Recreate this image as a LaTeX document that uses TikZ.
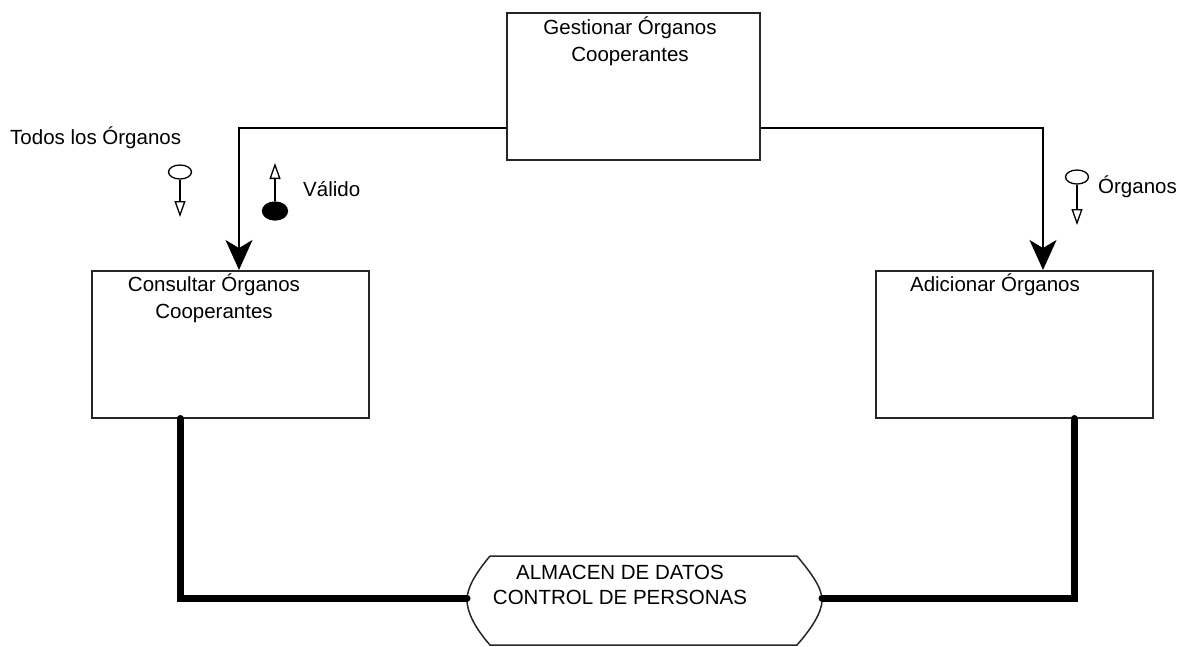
\documentclass[tikz,border=0pt]{standalone}
\usepackage{fontspec}
\setmainfont{Liberation Sans}
\usetikzlibrary{arrows.meta,shapes.geometric}

\tikzset{
  procbox/.style={draw=black!85, line width=1.5pt, rectangle, inner sep=0pt, anchor=north west},
  boxtext/.style={inner sep=0pt, align=center, font=\fontsize{20.5}{27}\selectfont},
  flow/.style={line width=1.5pt, -{Stealth[length=30pt, width=27pt, inset=8pt]}},
  datalink/.style={line width=7pt, line cap=round},
  couple/.style={line width=1.3pt, -{Triangle[open, length=16pt, width=11pt, line width=1.3pt]}},
  flagopen/.style={draw, ellipse, line width=1.3pt, inner sep=0pt, minimum width=23pt, minimum height=14pt},
  flagfull/.style={draw, fill=black, ellipse, line width=1.3pt, inner sep=0pt, minimum width=25pt, minimum height=18pt},
  storeline/.style={line width=1.5pt, draw=black!85}
}

\begin{document}
\begin{tikzpicture}[x=1pt, y=-1pt]
  \useasboundingbox (0,0) rectangle (1189,646);

  % process boxes
  \node[procbox, minimum width=253pt, minimum height=147pt] (gest) at (506,12) {};
  \node[procbox, minimum width=277pt, minimum height=147pt] (cons) at (91,270) {};
  \node[procbox, minimum width=277pt, minimum height=147pt] (adic) at (875,270) {};

  \node[boxtext] (gestT) at (630,41) {Gestionar Órganos\\Cooperantes};
  \node[boxtext] (consT) at (214,298) {Consultar Órganos\\Cooperantes};
  \node[boxtext] (adicT) at (995,285) {Adicionar Órganos};

  % control flows from the top box
  \coordinate (lbranch) at (239,128);
  \coordinate (rbranch) at (1043,128);
  \draw[flow] (gest.west |- lbranch) -- (lbranch) -- (lbranch |- cons.north);
  \draw[flow] (gest.east |- rbranch) -- (rbranch) -- (rbranch |- adic.north);

  % data store
  \draw[storeline] (490,556) -- (797,556)
     .. controls (812,574) and (822,588) .. (822,600)
     .. controls (822,612) and (812,628) .. (797,645)
     -- (490,645)
     .. controls (475,628) and (467,612) .. (467,600)
     .. controls (467,588) and (475,574) .. (490,556);
  \coordinate (storeW) at (467,598);
  \coordinate (storeE) at (822,598);
  \node[inner sep=0pt, align=center, font=\fontsize{20.5}{25}\selectfont] (storeT) at (620,585) {ALMACEN DE DATOS\\CONTROL DE PERSONAS};

  % links to the data store
  \coordinate (ltap) at ([xshift=89pt]cons.south west);
  \coordinate (rtap) at ([xshift=199pt]adic.south west);
  \draw[datalink] (ltap) -- (ltap |- storeW) -- (storeW);
  \draw[datalink] (rtap) -- (rtap |- storeE) -- (storeE);

  % couples
  \node[boxtext, anchor=west] (todosT) at (10,138) {Todos los Órganos};
  \node[flagopen] (todosF) at (180,172) {};
  \coordinate (todosA) at (180,217);
  \draw[couple] (todosF.south) -- (todosA);

  \node[flagfull] (validF) at (275,211) {};
  \coordinate (validA) at (275,163);
  \draw[couple] (validF.north) -- (validA);
  \node[boxtext, anchor=west] (validT) at (303,189) {Válido};

  \node[flagopen] (orgF) at (1077,177) {};
  \coordinate (orgA) at (1077,225);
  \draw[couple] (orgF.south) -- (orgA);
  \node[boxtext, anchor=west] (orgT) at (1098,187) {Órganos};
\end{tikzpicture}
\end{document}
